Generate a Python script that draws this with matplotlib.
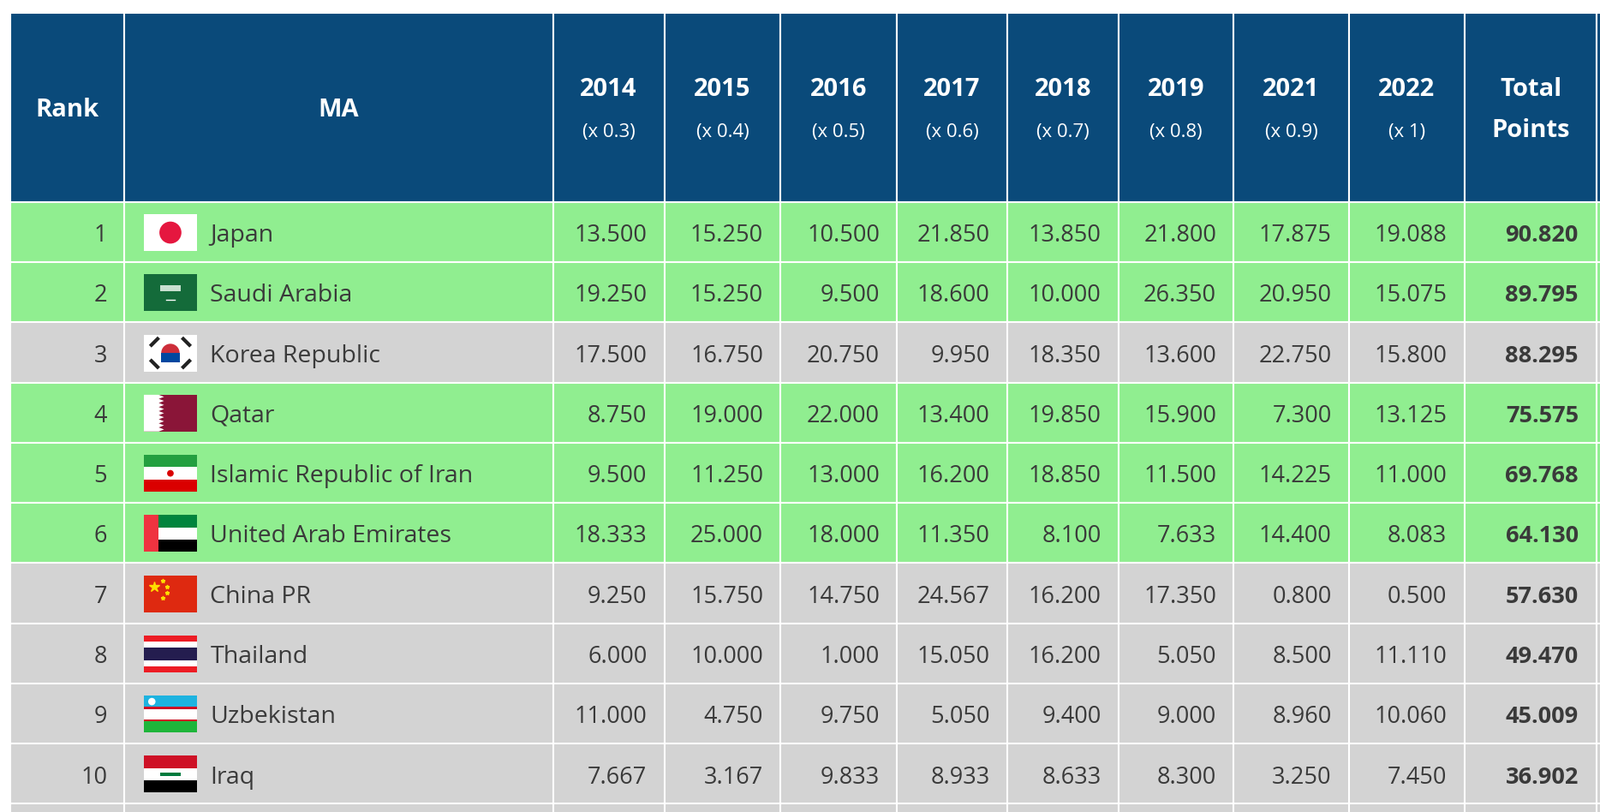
import matplotlib.pyplot as plt
from matplotlib.patches import Rectangle, Circle, Polygon

plt.rcParams['font.family'] = 'Open Sans'

# data
ranks = [1, 2, 3, 4, 5, 6, 7, 8, 9, 10]
countries = ['Japan', 'Saudi Arabia', 'Korea Republic', 'Qatar', 'Islamic Republic of Iran',
             'United Arab Emirates', 'China PR', 'Thailand', 'Uzbekistan', 'Iraq']
years = ['2014', '2015', '2016', '2017', '2018', '2019', '2021', '2022']
weights = ['(x 0.3)', '(x 0.4)', '(x 0.5)', '(x 0.6)', '(x 0.7)', '(x 0.8)', '(x 0.9)', '(x 1)']
points = [
    [13.500, 15.250, 10.500, 21.850, 13.850, 21.800, 17.875, 19.088],
    [19.250, 15.250, 9.500, 18.600, 10.000, 26.350, 20.950, 15.075],
    [17.500, 16.750, 20.750, 9.950, 18.350, 13.600, 22.750, 15.800],
    [8.750, 19.000, 22.000, 13.400, 19.850, 15.900, 7.300, 13.125],
    [9.500, 11.250, 13.000, 16.200, 18.850, 11.500, 14.225, 11.000],
    [18.333, 25.000, 18.000, 11.350, 8.100, 7.633, 14.400, 8.083],
    [9.250, 15.750, 14.750, 24.567, 16.200, 17.350, 0.800, 0.500],
    [6.000, 10.000, 1.000, 15.050, 16.200, 5.050, 8.500, 11.110],
    [11.000, 4.750, 9.750, 5.050, 9.400, 9.000, 8.960, 10.060],
    [7.667, 3.167, 9.833, 8.933, 8.633, 8.300, 3.250, 7.450],
]
totals = [90.820, 89.795, 88.295, 75.575, 69.768, 64.130, 57.630, 49.470, 45.009, 36.902]
qualified = [True, True, False, True, True, True, False, False, False, False]

HEADER = '#0a4a7a'
GREEN = '#90ee90'
GREY = '#d3d3d3'
TXT = '#3a3a3a'
FS = 19.5
HFS = 21

W, H = 1568, 796
fig = plt.figure(figsize=(18.68, 9.48), dpi=100)
ax = fig.add_axes([0, 0, 1, 1])
ax.set_xlim(0, W)
ax.set_ylim(H, 0)
ax.axis('off')

cols = [10, 122, 542, 651, 765, 879, 987, 1096, 1209, 1322, 1435, 1565, 1640]
top, hb, rh = 13, 198, 59

# header
for i in range(len(cols) - 1):
    ax.add_patch(Rectangle((cols[i], top), cols[i + 1] - cols[i], hb - top, fc=HEADER, ec='white', lw=1.5))
ax.text((cols[0] + cols[1]) / 2, 108, 'Rank', color='white', fontsize=HFS, fontweight='bold', ha='center', va='center')
ax.text((cols[1] + cols[2]) / 2, 108, 'MA', color='white', fontsize=HFS, fontweight='bold', ha='center', va='center')
for j, (y, w) in enumerate(zip(years, weights)):
    cx = (cols[j + 2] + cols[j + 3]) / 2
    ax.text(cx, 88, y, color='white', fontsize=HFS, fontweight='bold', ha='center', va='center')
    ax.text(cx, 130, w, color='white', fontsize=16, ha='center', va='center')
cx = (cols[10] + cols[11]) / 2
ax.text(cx, 88, 'Total', color='white', fontsize=HFS, fontweight='bold', ha='center', va='center')
ax.text(cx, 128, 'Points', color='white', fontsize=HFS, fontweight='bold', ha='center', va='center')


def flag(name, x, y, w, h):
    def r(x0, y0, ww, hh, c):
        ax.add_patch(Rectangle((x0, y0), ww, hh, fc=c, ec='none', zorder=3))
    if name == 'Japan':
        r(x, y, w, h, 'white')
        ax.add_patch(Circle((x + w / 2, y + h / 2), h * 0.3, fc='#e5173f', zorder=4))
    elif name == 'Saudi Arabia':
        r(x, y, w, h, '#146b3a')
        r(x + w * 0.3, y + h * 0.3, w * 0.4, h * 0.15, '#c8e0d0')
        ax.plot([x + w * 0.42, x + w * 0.58], [y + h * 0.68] * 2, color='white', lw=1, zorder=4)
    elif name == 'Korea Republic':
        r(x, y, w, h, 'white')
        ax.add_patch(Circle((x + w / 2, y + h / 2), h * 0.25, fc='#cd2e3a', zorder=4))
        ax.add_patch(Rectangle((x + w / 2 - h * 0.25, y + h / 2), h * 0.5, h * 0.25, fc='#0047a0', zorder=5))
        ax.add_patch(Rectangle((x + w / 2 - h * 0.25, y + h / 2 - h * 0.25), h * 0.5, h * 0.5, fc='white', zorder=3.5))
        for dx, dy in [(-0.3, -0.3), (0.3, -0.3), (-0.3, 0.3), (0.3, 0.3)]:
            s = 1 if dx * dy > 0 else -1
            cx, cy = x + w / 2 + dx * w, y + h / 2 + dy * h
            ax.plot([cx - 3, cx + 3], [cy + 3 * s, cy - 3 * s], color='#222222', lw=3, zorder=4)
    elif name == 'Qatar':
        r(x, y, w, h, '#8a1538')
        pts = [(x, y), (x + w * 0.28, y)]
        n = 9
        for k in range(n):
            pts.append((x + w * 0.38, y + h * (k + 0.5) / n))
            pts.append((x + w * 0.28, y + h * (k + 1) / n))
        pts.append((x, y + h))
        ax.add_patch(Polygon(pts, fc='white', ec='none', zorder=4))
    elif name == 'Islamic Republic of Iran':
        r(x, y, w, h / 3, '#239f40')
        r(x, y + h / 3, w, h / 3, 'white')
        r(x, y + 2 * h / 3, w, h / 3, '#da0000')
        ax.add_patch(Circle((x + w / 2, y + h / 2), h * 0.09, fc='#da0000', zorder=4))
    elif name == 'United Arab Emirates':
        r(x, y, w, h / 3, '#00843d')
        r(x, y + h / 3, w, h / 3, 'white')
        r(x, y + 2 * h / 3, w, h / 3, 'black')
        r(x, y, w * 0.27, h, '#ef3340')
    elif name == 'China PR':
        r(x, y, w, h, '#de2910')
        ax.plot([x + w * 0.2], [y + h * 0.32], marker='*', color='#ffde00', ms=9, zorder=4)
        for sx, sy in [(0.36, 0.15), (0.43, 0.3), (0.43, 0.48), (0.36, 0.62)]:
            ax.plot([x + w * sx], [y + h * sy], marker='*', color='#ffde00', ms=3.5, zorder=4)
    elif name == 'Thailand':
        for k, (hh, c) in enumerate([(1, '#ed1c24'), (1, 'white'), (2, '#241d4f'), (1, 'white'), (1, '#ed1c24')]):
            y0 = y + h * [0, 1, 2, 4, 5][k] / 6
            r(x, y0, w, h * hh / 6, c)
    elif name == 'Uzbekistan':
        r(x, y, w, h / 3, '#1eb3e0')
        r(x, y + h / 3, w, h / 3, 'white')
        r(x, y + 2 * h / 3, w, h / 3, '#1eb53a')
        r(x, y + h / 3 - 1, w, 2, '#ce1126')
        r(x, y + 2 * h / 3 - 1, w, 2, '#ce1126')
        ax.add_patch(Circle((x + w * 0.15, y + h * 0.16), h * 0.1, fc='white', zorder=4))
    elif name == 'Iraq':
        r(x, y, w, h / 3, '#ce1126')
        r(x, y + h / 3, w, h / 3, 'white')
        r(x, y + 2 * h / 3, w, h / 3, 'black')
        r(x + w * 0.3, y + h * 0.45, w * 0.4, h * 0.1, '#007a3d')


for i in range(len(ranks) + 1):
    y0 = hb + i * rh
    fc = GREY if i >= len(ranks) else (GREEN if qualified[i] else GREY)
    for c in range(len(cols) - 1):
        ax.add_patch(Rectangle((cols[c], y0), cols[c + 1] - cols[c], rh, fc=fc, ec='white', lw=1.5))
    if i >= len(ranks):
        continue
    yc = y0 + rh / 2 + 3.5
    ax.text(cols[1] - 17, yc, str(ranks[i]), color=TXT, fontsize=FS, ha='right', va='center')
    flag(countries[i], 141, y0 + 12, 52, 36)
    ax.text(206, yc, countries[i], color=TXT, fontsize=FS + 1, ha='left', va='center')
    for j, v in enumerate(points[i]):
        ax.text(cols[j + 3] - 17, yc, f'{v:.3f}', color=TXT, fontsize=FS, ha='right', va='center')
    ax.text(cols[11] - 18, yc, f'{totals[i]:.3f}', color=TXT, fontsize=FS, fontweight='bold', ha='right', va='center')

fig.savefig('out.png', dpi=100, facecolor='white')
